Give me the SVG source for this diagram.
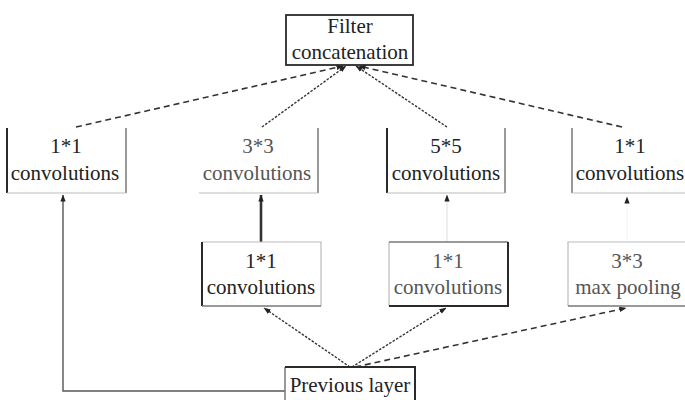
<svg xmlns="http://www.w3.org/2000/svg" width="685" height="400" viewBox="0 0 685 400">
<defs>
<style>
text{font-family:'Liberation Serif','DejaVu Serif','Noto Serif',serif;font-size:21px;text-anchor:middle;fill:#222}
.lt{fill:#555}
.dk{stroke:#2a2a2a;fill:none;stroke-width:2}
.md{stroke:#777;fill:none;stroke-width:1.5}
.li{stroke:#bbb;fill:none;stroke-width:1.2}
.c{fill:none;stroke:#333;stroke-width:1.4}
.dot{stroke-dasharray:2.5 1.5}
.dash{stroke-dasharray:6 4;stroke-width:1.6}
</style>
<marker id="ah" viewBox="0 0 8 6" refX="7.5" refY="3" markerWidth="7" markerHeight="6" markerUnits="userSpaceOnUse" orient="auto">
<path d="M0,0 L8,3 L0,6 z" fill="#222"/>
</marker>
</defs>
<rect width="685" height="400" fill="#fff"/>

<g id="connectors">
<path class="c" d="M285,391 H63 V195" style="stroke:#555" marker-end="url(#ah)"/>
<path class="c dot" d="M350,367 L264,308" marker-end="url(#ah)"/>
<path class="c dot" d="M352,367 L446,308" marker-end="url(#ah)"/>
<path class="c dash" d="M355,367 L626,308" marker-end="url(#ah)"/>
<path class="c" d="M261,242 V195" style="stroke-width:2.6" marker-end="url(#ah)"/>
<path class="c" d="M447,242 V195" style="stroke:#ddd;stroke-width:1" marker-end="url(#ah)"/>
<path class="c" d="M627,242 V197" style="stroke:#f3f3f3;stroke-width:1" marker-end="url(#ah)"/>
<path class="c dash" d="M76,127 L343,66" marker-end="url(#ah)"/>
<path class="c dot" d="M262,127 L346,66" marker-end="url(#ah)"/>
<path class="c dot" d="M447,127 L356,66" marker-end="url(#ah)"/>
<path class="c dash" d="M622,127 L359,66" marker-end="url(#ah)"/>
</g>

<g id="filter-concat">
<rect x="286" y="15" width="127" height="50" fill="#fff" stroke="#2a2a2a" stroke-width="1.8"/>
<text x="350" y="33">Filter</text>
<text x="350" y="59">concatenation</text>
</g>

<g id="conv1x1-a">
<path class="dk" d="M7,128 V193"/>
<path class="md" d="M126,128 V193"/>
<path class="li" d="M7,193 H126"/>
<text x="66" y="153">1*1</text>
<text x="65" y="180">convolutions</text>
</g>

<g id="conv3x3">
<path class="md" d="M318,128 V193"/>
<path class="li" d="M199,193 H318"/>
<text x="258" y="153" class="lt">3*3</text>
<text x="257" y="180" class="lt">convolutions</text>
</g>

<g id="conv5x5">
<path class="dk" d="M387,128 V193"/>
<path class="md" d="M505,128 V193"/>
<path class="li" d="M387,193 H505"/>
<text x="446" y="153">5*5</text>
<text x="446" y="180">convolutions</text>
</g>

<g id="conv1x1-d">
<path class="md" d="M572,128 V193"/>
<path class="li" d="M572,193 H690"/>
<text x="630" y="153">1*1</text>
<text x="630" y="180">convolutions</text>
</g>

<g id="reduce-a">
<path class="li" d="M202,242 H321 V306"/>
<path class="dk" d="M202,242 V306"/>
<path class="md" d="M202,306 H321"/>
<text x="261" y="268">1*1</text>
<text x="261" y="294">convolutions</text>
</g>

<g id="reduce-b">
<path class="li" d="M389,242 V306"/>
<path class="md" d="M389,242 H508"/>
<path class="dk" d="M508,242 V306 H389"/>
<text x="448" y="268" class="lt">1*1</text>
<text x="448" y="294" class="lt">convolutions</text>
</g>

<g id="maxpool">
<path class="li" d="M568,306 V242 H690"/>
<path class="md" d="M568,306 H690"/>
<text x="627" y="268" class="lt">3*3</text>
<text x="628" y="294" class="lt">max pooling</text>
</g>

<g id="previous-layer">
<path class="md" d="M285,367 V402"/>
<path class="dk" d="M285,367 H415 V402"/>
<text x="350" y="392">Previous layer</text>
</g>
</svg>
